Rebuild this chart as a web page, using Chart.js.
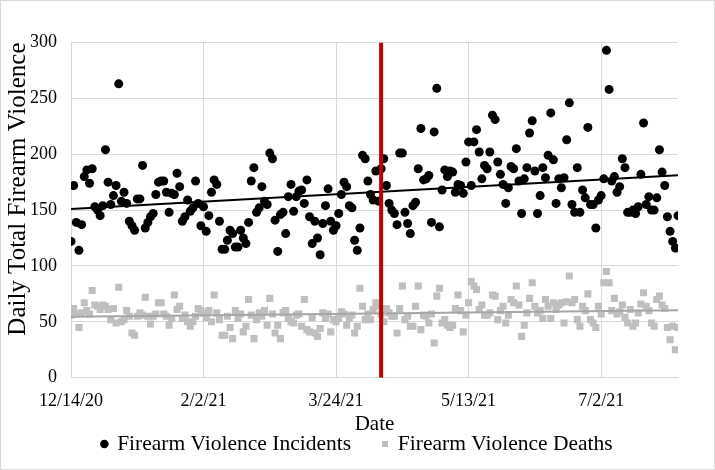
<!DOCTYPE html>
<html>
<head>
<meta charset="utf-8">
<script src="https://cdn.jsdelivr.net/npm/chart.js@4/dist/chart.umd.min.js"></script>
<style>
  html, body { margin: 0; padding: 0; background: #fff; }
</style>
</head>
<body>
<canvas id="chart" width="715" height="470"></canvas>
<script>
// day 0 = 12/14/20, last day = 7/31/21
const tickLabels = ['12/14/20', '2/2/21', '3/24/21', '5/13/21', '7/2/21'];
const lastDay = 229;
const markerDay = 117; // red vertical line

const incidents = [
    122, 172, 139, 114, 137, 180, 186, 174, 187, 153,
    150, 145, 154, 204, 175, 155, 163, 172, 263, 158,
    166, 156, 140, 136, 132, 160, 160, 190, 134, 139,
    144, 147, 164, 175, 176, 176, 166, 148, 165, 164,
    183, 171, 140, 144, 159, 149, 152, 176, 156, 136,
    153, 131, 145, 166, 177, 173, 140, 115, 115, 123,
    132, 129, 117, 117, 132, 125, 120, 139, 176, 188,
    148, 152, 171, 158, 155, 201, 196, 141, 113, 146,
    148, 129, 162, 173, 149, 162, 167, 168, 156, 177,
    144, 120, 140, 125, 110, 138, 154, 169, 140, 132,
    136, 147, 164, 175, 171, 154, 152, 123, 114, 134,
    199, 196, 176, 164, 159, 185, 158, 187, 196, 172,
    156, 150, 147, 137, 201, 201, 148, 138, 129, 154,
    157, 187, 223, 177, 178, 181, 139, 220, 259, 135,
    168, 186, 180, 185, 184, 166, 173, 172, 165, 193,
    211, 172, 211, 222, 202, 178, 190, 187, 202, 235,
    231, 193, 182, 173, 156, 170, 189, 187, 205, 176,
    147, 178, 188, 219, 230, 185, 147, 163, 188, 179,
    199, 237, 195, 156, 178, 170, 179, 213, 246, 155,
    148, 188, 148, 168, 161, 224, 155, 155, 134, 159,
    163, 178, 293, 258, 176, 180, 166, 171, 196, 188,
    148, 148, 150, 147, 153, 182, 228, 155, 162, 150,
    150, 161, 204, 184, 172, 144, 131, 122, 116, 145
];

const deaths = [
    56, 62, 57, 45, 58, 67, 60, 57, 78, 65,
    64, 61, 65, 64, 61, 52, 62, 49, 81, 50,
    52, 60, 55, 40, 38, 55, 58, 56, 72, 55,
    48, 55, 57, 67, 67, 57, 55, 47, 53, 74,
    61, 64, 53, 56, 50, 46, 50, 55, 62, 60,
    58, 54, 60, 50, 74, 58, 52, 38, 38, 55,
    45, 35, 60, 53, 57, 41, 46, 70, 56, 35,
    52, 58, 55, 60, 47, 71, 57, 40, 47, 35,
    58, 60, 53, 50, 49, 56, 57, 46, 70, 43,
    41, 54, 40, 37, 44, 58, 53, 57, 41, 52,
    50, 53, 59, 57, 47, 53, 56, 40, 46, 80,
    64, 52, 57, 52, 61, 67, 64, 57, 50, 62,
    58, 55, 55, 40, 62, 82, 52, 55, 46, 46,
    64, 82, 43, 56, 55, 49, 57, 31, 73, 80,
    49, 52, 47, 45, 47, 62, 74, 60, 41, 56,
    67, 86, 82, 79, 61, 65, 56, 56, 58, 74,
    73, 52, 60, 64, 49, 56, 70, 67, 82, 65,
    37, 47, 58, 71, 85, 64, 58, 60, 53, 70,
    64, 53, 67, 61, 65, 67, 49, 68, 91, 67,
    70, 52, 46, 64, 60, 75, 52, 49, 45, 64,
    57, 85, 95, 85, 60, 71, 57, 59, 65, 54,
    49, 61, 46, 49, 58, 66, 76, 64, 60, 49,
    46, 70, 73, 65, 62, 45, 34, 46, 25, 45
];

function toPoints(arr) {
    return arr.map((v, i) => ({ x: i, y: v }));
}

// least squares trend, like Excel's linear trendline
function trend(arr) {
    const n = arr.length;
    let sx = 0, sy = 0, sxy = 0, sxx = 0;
    arr.forEach((v, i) => { sx += i; sy += v; sxy += i * v; sxx += i * i; });
    const b = (n * sxy - sx * sy) / (n * sxx - sx * sx);
    const a = (sy - b * sx) / n;
    return [{ x: 0, y: a }, { x: n - 1, y: a + b * (n - 1) }];
}

Chart.defaults.font.family = '"Liberation Serif", "Times New Roman", serif';
Chart.defaults.color = '#000';

const frame = {
    id: 'frame',
    beforeDraw(c) {
        const ctx = c.ctx;
        ctx.save();
        ctx.fillStyle = '#fff';
        ctx.fillRect(0, 0, c.width, c.height);
        ctx.restore();
    },
    afterDraw(c) {
        const ctx = c.ctx;
        ctx.save();
        ctx.strokeStyle = '#d9d9d9';
        ctx.lineWidth = 1;
        ctx.strokeRect(0.5, 0.5, c.width - 1, c.height - 1);
        ctx.restore();
    }
};

new Chart(document.getElementById('chart'), {
    type: 'scatter',
    data: {
        datasets: [
            {
                type: 'line',
                label: 'marker',
                data: [{ x: markerDay, y: 0 }, { x: markerDay, y: 300 }],
                borderColor: '#c00000',
                borderWidth: 4,
                pointRadius: 0,
                order: 0
            },
            {
                type: 'line',
                label: 'incidents trend',
                data: trend(incidents),
                borderColor: '#000',
                borderWidth: 2,
                pointRadius: 0,
                order: 1
            },
            {
                type: 'line',
                label: 'deaths trend',
                data: trend(deaths),
                borderColor: '#a6a6a6',
                borderWidth: 2,
                pointRadius: 0,
                order: 1
            },
            {
                // en space keeps the gap between the two legend entries
                label: 'Firearm Violence Incidents\u2002',
                data: toPoints(incidents),
                pointStyle: 'circle',
                pointRadius: 4.5,
                backgroundColor: '#000',
                borderColor: '#000',
                borderWidth: 0,
                order: 2
            },
            {
                label: 'Firearm Violence Deaths',
                data: toPoints(deaths),
                pointStyle: 'rect',
                pointRadius: 5,
                backgroundColor: '#bfbfbf',
                borderColor: '#bfbfbf',
                borderWidth: 0,
                order: 3
            }
        ]
    },
    options: {
        responsive: false,
        animation: false,
        layout: { padding: { left: 0, right: 0, top: 42.5, bottom: 5.25 } },
        plugins: {
            tooltip: { enabled: false },
            legend: {
                position: 'bottom',
                labels: {
                    filter: item => item.text.startsWith('Firearm'),
                    usePointStyle: true,
                    boxWidth: 4,
                    boxHeight: 6,
                    padding: 21.25,
                    font: { size: 21.5 }
                }
            }
        },
        scales: {
            x: {
                type: 'linear',
                min: 0,
                max: lastDay,
                grid: { color: '#d9d9d9', drawTicks: false },
                border: { color: '#d9d9d9' },
                ticks: {
                    stepSize: 50,
                    includeBounds: false,
                    padding: 13,
                    maxRotation: 0,
                    font: { size: 18 },
                    callback: v => tickLabels[v / 50]
                },
                title: {
                    display: true,
                    text: 'Date',
                    font: { size: 21, lineHeight: 1 },
                    padding: { top: -11.3, bottom: -23 }
                }
            },
            y: {
                min: 0,
                max: 300,
                grid: { color: '#d9d9d9', drawTicks: false },
                border: { color: '#d9d9d9' },
                ticks: { stepSize: 50, padding: 14, font: { size: 18 } },
                title: {
                    display: true,
                    text: 'Daily Total Firearm Violence',
                    align: 'end',
                    font: { size: 25 },
                    padding: { top: 3, bottom: 0 }
                },
                afterFit: s => { s.width = 71; }
            },
            // empty right margin so the legend centres on the whole figure
            yRight: {
                position: 'right',
                min: 0,
                max: 300,
                grid: { display: false },
                border: { display: false },
                ticks: { display: false },
                afterFit: s => { s.width = 37; }
            }
        }
    },
    plugins: [frame]
});
</script>
</body>
</html>
